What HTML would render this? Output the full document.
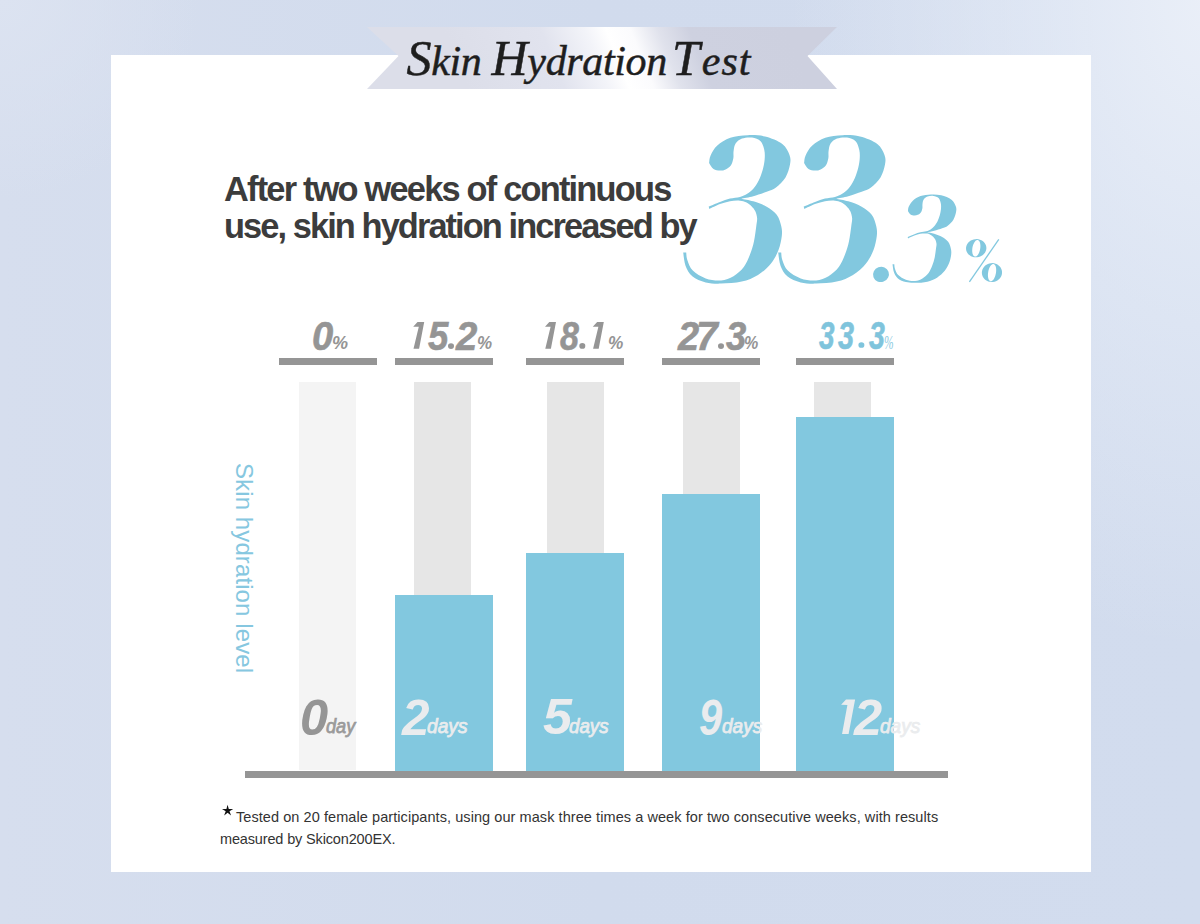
<!DOCTYPE html>
<html><head><meta charset="utf-8">
<style>
*{margin:0;padding:0;box-sizing:border-box}
html,body{width:1200px;height:924px;overflow:hidden}
body{position:relative;font-family:"Liberation Sans",sans-serif;background:#d3dcec;}
#bg{position:absolute;left:0;top:0;width:1200px;height:924px;
background:radial-gradient(ellipse 200px 200px at 0px 0px,rgba(220,227,241,1) 0%,rgba(221,228,241,0) 100%),radial-gradient(ellipse 420px 650px at 1210px 0px,rgba(234,239,248,1) 0%,rgba(232,238,248,0.6) 40%,rgba(232,238,248,0) 100%),linear-gradient(90deg,#d6deee 0%,#d1dbed 50%,#d2dcee 100%);}
#card{position:absolute;left:111px;top:55px;width:980px;height:817px;background:#fff}
.abs{position:absolute;white-space:nowrap}
#title{left:406.5px;top:29px;font-family:"Liberation Serif",serif;font-style:italic;font-size:42px;color:#1e1e1e;letter-spacing:-0.35px;-webkit-text-stroke:0.5px #1e1e1e}
#title b{font-weight:normal;font-size:50px}
#head{left:224px;top:171px;font-size:34.4px;font-weight:bold;color:#3c3c3c;line-height:37px;letter-spacing:-1.8px}
.ul{position:absolute;top:358px;height:7px;width:98px;background:#959595}
.gb{position:absolute;top:382px;width:57px;height:389px;background:#e6e6e6}
.bb{position:absolute;width:98px;background:#82c8df}
#axis{position:absolute;left:245px;top:771px;width:703px;height:7px;background:#959595}
.pl{position:absolute;white-space:nowrap;font-weight:bold;font-style:italic;color:#959595;font-size:39px;top:313px;transform:scaleX(0.82);transform-origin:0 0}
.pl small{font-size:18px}
.dl{position:absolute;white-space:nowrap;font-weight:bold;font-style:italic;font-size:50px;top:687px;color:#e6e8ea;transform:scaleX(0.86);transform-origin:0 0}
.dl small{font-size:20px}
#ylab{left:236.3px;top:463px;font-size:24px;color:#86c7e0;letter-spacing:0.1px;transform-origin:0 0;transform:translate(22px,0) rotate(90deg)}
#foot{left:236px;top:806px;font-size:14.5px;color:#333;line-height:22px;letter-spacing:0.07px}
#foot2{left:220px;top:828px;font-size:14.5px;color:#333;line-height:22px;letter-spacing:-0.15px}
</style></head>
<body>
<div id="bg"></div>
<div id="card"></div>
<svg class="abs" style="left:0;top:0" width="1200" height="924">
<defs>
<linearGradient id="rib" x1="480" y1="118" x2="776" y2="-2" gradientUnits="userSpaceOnUse">
<stop offset="0" stop-color="#dcdee9"/>
<stop offset="0.28" stop-color="#e1e3ee"/>
<stop offset="0.41" stop-color="#f3f4f9"/>
<stop offset="0.47" stop-color="#ffffff"/>
<stop offset="0.54" stop-color="#fbfbfd"/>
<stop offset="0.62" stop-color="#e0e2ec"/>
<stop offset="0.71" stop-color="#ced1e0"/>
<stop offset="1" stop-color="#cdd0df"/>
</linearGradient>
</defs>
<polygon points="367,27 837,27 807.5,56 837,89 367,89 398.5,56" fill="url(#rib)"/>
<polygon points="227.60,804.80 228.78,809.08 233.21,808.88 229.50,811.32 231.07,815.47 227.60,812.70 224.13,815.47 225.70,811.32 221.99,808.88 226.42,809.08" fill="#111"/>
</svg>
<svg class="abs" style="left:0;top:0" width="1200" height="924">
<g fill="#82c8df">
<path d="M26.1 27.9 C26.4 26.7 26.2 23.4 27.6 20.5 C29.0 17.6 31.0 13.5 34.3 10.6 C37.6 7.7 42.2 4.5 47.3 2.8 C52.3 1.1 58.8 0.4 64.6 0.2 C70.4 -0.0 76.2 0.1 82.0 1.5 C87.8 2.9 95.2 5.8 99.3 8.9 C103.4 12.0 105.2 16.6 106.5 20.0 C107.8 23.4 107.7 25.8 107.0 29.6 C106.3 33.3 104.8 38.7 102.5 42.5 C100.2 46.3 96.1 50.1 93.0 52.5 C89.9 54.9 87.5 55.4 83.7 56.8 C79.9 58.2 74.5 60.0 70.3 61.2 C66.1 62.3 60.3 63.3 58.3 63.7 C60.3 64.1 66.1 65.0 70.3 66.3 C74.5 67.6 79.8 69.5 83.7 71.7 C87.6 73.9 91.3 76.5 93.7 79.7 C96.1 82.9 97.4 87.4 98.2 91.0 C99.1 94.6 99.2 97.0 98.8 101.0 C98.3 105.0 97.3 110.4 95.5 115.0 C93.7 119.6 91.4 124.3 88.0 128.5 C84.6 132.7 79.9 137.0 75.0 140.0 C70.1 143.0 64.9 145.2 58.7 146.6 C52.6 148.0 44.1 148.5 38.1 148.6 C32.1 148.7 27.5 148.6 22.7 147.4 C17.9 146.2 12.6 143.9 9.3 141.2 C5.9 138.4 4.1 134.8 2.6 130.9 C1.1 127.0 0.6 119.8 0.2 117.6 L3.2 117.6 C3.4 118.9 3.3 122.2 4.4 125.2 C5.5 128.2 6.8 132.6 9.8 135.6 C12.8 138.6 18.0 141.8 22.7 143.4 C27.4 145.0 33.5 145.8 38.1 145.4 C42.7 145.0 46.7 143.4 50.5 141.2 C54.3 139.0 58.0 135.6 60.8 132.0 C63.5 128.4 65.3 123.9 67.0 119.6 C68.7 115.3 70.0 111.1 71.0 106.3 C72.0 101.5 72.8 94.9 73.3 91.0 C73.8 87.1 74.3 85.4 74.1 83.0 C73.9 80.6 73.2 78.3 72.3 76.3 C71.4 74.3 70.0 72.7 68.5 71.2 C67.0 69.7 64.9 68.2 63.0 67.3 C61.1 66.4 59.7 65.9 57.0 65.7 C54.3 65.5 50.3 65.6 47.0 66.2 C43.7 66.8 40.5 67.8 37.0 69.1 C33.5 70.4 28.1 73.2 26.3 74.0 L25.7 71.6 C27.6 70.8 33.5 68.2 37.0 66.9 C40.5 65.6 43.7 64.4 47.0 63.6 C50.3 62.8 54.1 62.7 57.0 61.9 C59.9 61.1 62.0 60.2 64.2 58.8 C66.4 57.4 68.4 55.9 70.3 53.7 C72.2 51.5 74.2 48.5 75.7 45.5 C77.2 42.5 78.5 38.9 79.5 35.5 C80.5 32.1 81.3 28.4 81.6 25.0 C81.9 21.6 82.0 18.1 81.3 15.0 C80.6 11.9 79.6 8.3 77.6 6.2 C75.6 4.1 72.1 3.0 69.0 2.6 C65.9 2.2 61.7 2.6 59.0 3.6 C56.3 4.6 54.0 6.5 52.6 8.6 C51.2 10.7 51.0 13.5 50.6 16.0 C50.2 18.5 50.8 21.1 50.3 23.5 C49.8 25.9 49.1 28.6 47.8 30.4 C46.5 32.2 44.4 33.5 42.6 34.4 C40.8 35.3 38.9 35.7 36.9 35.6 C34.9 35.5 32.3 35.2 30.5 33.9 C28.7 32.6 26.8 28.9 26.1 27.9Z" transform="translate(683,135)"/>
<path d="M26.1 27.9 C26.4 26.7 26.2 23.4 27.6 20.5 C29.0 17.6 31.0 13.5 34.3 10.6 C37.6 7.7 42.2 4.5 47.3 2.8 C52.3 1.1 58.8 0.4 64.6 0.2 C70.4 -0.0 76.2 0.1 82.0 1.5 C87.8 2.9 95.2 5.8 99.3 8.9 C103.4 12.0 105.2 16.6 106.5 20.0 C107.8 23.4 107.7 25.8 107.0 29.6 C106.3 33.3 104.8 38.7 102.5 42.5 C100.2 46.3 96.1 50.1 93.0 52.5 C89.9 54.9 87.5 55.4 83.7 56.8 C79.9 58.2 74.5 60.0 70.3 61.2 C66.1 62.3 60.3 63.3 58.3 63.7 C60.3 64.1 66.1 65.0 70.3 66.3 C74.5 67.6 79.8 69.5 83.7 71.7 C87.6 73.9 91.3 76.5 93.7 79.7 C96.1 82.9 97.4 87.4 98.2 91.0 C99.1 94.6 99.2 97.0 98.8 101.0 C98.3 105.0 97.3 110.4 95.5 115.0 C93.7 119.6 91.4 124.3 88.0 128.5 C84.6 132.7 79.9 137.0 75.0 140.0 C70.1 143.0 64.9 145.2 58.7 146.6 C52.6 148.0 44.1 148.5 38.1 148.6 C32.1 148.7 27.5 148.6 22.7 147.4 C17.9 146.2 12.6 143.9 9.3 141.2 C5.9 138.4 4.1 134.8 2.6 130.9 C1.1 127.0 0.6 119.8 0.2 117.6 L3.2 117.6 C3.4 118.9 3.3 122.2 4.4 125.2 C5.5 128.2 6.8 132.6 9.8 135.6 C12.8 138.6 18.0 141.8 22.7 143.4 C27.4 145.0 33.5 145.8 38.1 145.4 C42.7 145.0 46.7 143.4 50.5 141.2 C54.3 139.0 58.0 135.6 60.8 132.0 C63.5 128.4 65.3 123.9 67.0 119.6 C68.7 115.3 70.0 111.1 71.0 106.3 C72.0 101.5 72.8 94.9 73.3 91.0 C73.8 87.1 74.3 85.4 74.1 83.0 C73.9 80.6 73.2 78.3 72.3 76.3 C71.4 74.3 70.0 72.7 68.5 71.2 C67.0 69.7 64.9 68.2 63.0 67.3 C61.1 66.4 59.7 65.9 57.0 65.7 C54.3 65.5 50.3 65.6 47.0 66.2 C43.7 66.8 40.5 67.8 37.0 69.1 C33.5 70.4 28.1 73.2 26.3 74.0 L25.7 71.6 C27.6 70.8 33.5 68.2 37.0 66.9 C40.5 65.6 43.7 64.4 47.0 63.6 C50.3 62.8 54.1 62.7 57.0 61.9 C59.9 61.1 62.0 60.2 64.2 58.8 C66.4 57.4 68.4 55.9 70.3 53.7 C72.2 51.5 74.2 48.5 75.7 45.5 C77.2 42.5 78.5 38.9 79.5 35.5 C80.5 32.1 81.3 28.4 81.6 25.0 C81.9 21.6 82.0 18.1 81.3 15.0 C80.6 11.9 79.6 8.3 77.6 6.2 C75.6 4.1 72.1 3.0 69.0 2.6 C65.9 2.2 61.7 2.6 59.0 3.6 C56.3 4.6 54.0 6.5 52.6 8.6 C51.2 10.7 51.0 13.5 50.6 16.0 C50.2 18.5 50.8 21.1 50.3 23.5 C49.8 25.9 49.1 28.6 47.8 30.4 C46.5 32.2 44.4 33.5 42.6 34.4 C40.8 35.3 38.9 35.7 36.9 35.6 C34.9 35.5 32.3 35.2 30.5 33.9 C28.7 32.6 26.8 28.9 26.1 27.9Z" transform="translate(778,135)"/>
<path d="M26.1 27.9 C26.4 26.7 26.2 23.4 27.6 20.5 C29.0 17.6 31.0 13.5 34.3 10.6 C37.6 7.7 42.2 4.5 47.3 2.8 C52.3 1.1 58.8 0.4 64.6 0.2 C70.4 -0.0 76.2 0.1 82.0 1.5 C87.8 2.9 95.2 5.8 99.3 8.9 C103.4 12.0 105.2 16.6 106.5 20.0 C107.8 23.4 107.7 25.8 107.0 29.6 C106.3 33.3 104.8 38.7 102.5 42.5 C100.2 46.3 96.1 50.1 93.0 52.5 C89.9 54.9 87.5 55.4 83.7 56.8 C79.9 58.2 74.5 60.0 70.3 61.2 C66.1 62.3 60.3 63.3 58.3 63.7 C60.3 64.1 66.1 65.0 70.3 66.3 C74.5 67.6 79.8 69.5 83.7 71.7 C87.6 73.9 91.3 76.5 93.7 79.7 C96.1 82.9 97.4 87.4 98.2 91.0 C99.1 94.6 99.2 97.0 98.8 101.0 C98.3 105.0 97.3 110.4 95.5 115.0 C93.7 119.6 91.4 124.3 88.0 128.5 C84.6 132.7 79.9 137.0 75.0 140.0 C70.1 143.0 64.9 145.2 58.7 146.6 C52.6 148.0 44.1 148.5 38.1 148.6 C32.1 148.7 27.5 148.6 22.7 147.4 C17.9 146.2 12.6 143.9 9.3 141.2 C5.9 138.4 4.1 134.8 2.6 130.9 C1.1 127.0 0.6 119.8 0.2 117.6 L3.2 117.6 C3.4 118.9 3.3 122.2 4.4 125.2 C5.5 128.2 6.8 132.6 9.8 135.6 C12.8 138.6 18.0 141.8 22.7 143.4 C27.4 145.0 33.5 145.8 38.1 145.4 C42.7 145.0 46.7 143.4 50.5 141.2 C54.3 139.0 58.0 135.6 60.8 132.0 C63.5 128.4 65.3 123.9 67.0 119.6 C68.7 115.3 70.0 111.1 71.0 106.3 C72.0 101.5 72.8 94.9 73.3 91.0 C73.8 87.1 74.3 85.4 74.1 83.0 C73.9 80.6 73.2 78.3 72.3 76.3 C71.4 74.3 70.0 72.7 68.5 71.2 C67.0 69.7 64.9 68.2 63.0 67.3 C61.1 66.4 59.7 65.9 57.0 65.7 C54.3 65.5 50.3 65.6 47.0 66.2 C43.7 66.8 40.5 67.8 37.0 69.1 C33.5 70.4 28.1 73.2 26.3 74.0 L25.7 71.6 C27.6 70.8 33.5 68.2 37.0 66.9 C40.5 65.6 43.7 64.4 47.0 63.6 C50.3 62.8 54.1 62.7 57.0 61.9 C59.9 61.1 62.0 60.2 64.2 58.8 C66.4 57.4 68.4 55.9 70.3 53.7 C72.2 51.5 74.2 48.5 75.7 45.5 C77.2 42.5 78.5 38.9 79.5 35.5 C80.5 32.1 81.3 28.4 81.6 25.0 C81.9 21.6 82.0 18.1 81.3 15.0 C80.6 11.9 79.6 8.3 77.6 6.2 C75.6 4.1 72.1 3.0 69.0 2.6 C65.9 2.2 61.7 2.6 59.0 3.6 C56.3 4.6 54.0 6.5 52.6 8.6 C51.2 10.7 51.0 13.5 50.6 16.0 C50.2 18.5 50.8 21.1 50.3 23.5 C49.8 25.9 49.1 28.6 47.8 30.4 C46.5 32.2 44.4 33.5 42.6 34.4 C40.8 35.3 38.9 35.7 36.9 35.6 C34.9 35.5 32.3 35.2 30.5 33.9 C28.7 32.6 26.8 28.9 26.1 27.9Z" transform="translate(892.4,194.4) scale(0.595)"/>
<ellipse cx="881" cy="274.4" rx="8" ry="7.6" transform="rotate(-20 881 274.4)"/>
<path fill-rule="evenodd" d="M986.34 247.13 L986.37 248.56 L986.14 249.98 L985.67 251.36 L984.97 252.66 L984.05 253.85 L982.93 254.90 L981.65 255.78 L980.24 256.48 L978.73 256.97 L977.15 257.25 L975.55 257.31 L973.97 257.14 L972.44 256.75 L971.01 256.15 L969.70 255.35 L968.55 254.38 L967.59 253.26 L966.85 252.01 L966.33 250.67 L966.06 249.27 L966.03 247.84 L966.26 246.42 L966.73 245.04 L967.43 243.74 L968.35 242.55 L969.47 241.50 L970.75 240.62 L972.16 239.92 L973.67 239.43 L975.25 239.15 L976.85 239.09 L978.43 239.26 L979.96 239.65 L981.39 240.25 L982.70 241.05 L983.85 242.02 L984.81 243.14 L985.55 244.39 L986.07 245.73Z M980.14 248.98 L979.87 250.26 L979.50 251.50 L979.06 252.66 L978.55 253.71 L977.98 254.63 L977.38 255.39 L976.74 255.98 L976.10 256.38 L975.46 256.58 L974.84 256.57 L974.26 256.36 L973.73 255.96 L973.26 255.36 L972.86 254.59 L972.55 253.67 L972.34 252.61 L972.22 251.45 L972.20 250.21 L972.28 248.93 L972.46 247.62 L972.73 246.34 L973.10 245.10 L973.54 243.94 L974.05 242.89 L974.62 241.97 L975.22 241.21 L975.86 240.62 L976.50 240.22 L977.14 240.02 L977.76 240.03 L978.34 240.24 L978.87 240.64 L979.34 241.24 L979.74 242.01 L980.05 242.93 L980.26 243.99 L980.38 245.15 L980.40 246.39 L980.32 247.67Z"/>
<path fill-rule="evenodd" d="M1001.99 271.49 L1002.03 272.98 L1001.81 274.45 L1001.35 275.88 L1000.66 277.22 L999.75 278.45 L998.65 279.53 L997.39 280.44 L995.99 281.16 L994.50 281.67 L992.94 281.95 L991.35 282.00 L989.79 281.81 L988.27 281.40 L986.85 280.77 L985.55 279.94 L984.40 278.93 L983.45 277.76 L982.70 276.46 L982.18 275.06 L981.91 273.61 L981.87 272.12 L982.09 270.65 L982.55 269.22 L983.24 267.88 L984.15 266.65 L985.25 265.57 L986.51 264.66 L987.91 263.94 L989.40 263.43 L990.96 263.15 L992.55 263.10 L994.11 263.29 L995.63 263.70 L997.05 264.33 L998.35 265.16 L999.50 266.17 L1000.45 267.34 L1001.20 268.64 L1001.72 270.04Z M995.89 273.28 L995.61 274.61 L995.24 275.89 L994.79 277.09 L994.27 278.18 L993.70 279.14 L993.09 279.93 L992.45 280.54 L991.80 280.96 L991.16 281.17 L990.54 281.17 L989.96 280.96 L989.43 280.54 L988.96 279.93 L988.57 279.13 L988.27 278.18 L988.05 277.09 L987.94 275.89 L987.93 274.60 L988.02 273.27 L988.21 271.92 L988.49 270.59 L988.86 269.31 L989.31 268.11 L989.83 267.02 L990.40 266.06 L991.01 265.27 L991.65 264.66 L992.30 264.24 L992.94 264.03 L993.56 264.03 L994.14 264.24 L994.67 264.66 L995.14 265.27 L995.53 266.07 L995.83 267.02 L996.05 268.11 L996.16 269.31 L996.17 270.60 L996.08 271.93Z"/>
<line x1="998.8" y1="239.4" x2="969.4" y2="281.9" stroke="#82c8df" stroke-width="1.3"/>
</g></svg>
<div class="abs" id="title"><b>S</b>kin <b>H</b>ydration <b style="margin-left:-5px;letter-spacing:2px">T</b><span style="letter-spacing:0.9px">est</span></div>
<div class="abs" id="head">After two weeks of continuous<br><span style="letter-spacing:-1.92px">use, skin hydration increased by</span></div>

<div class="gb" style="left:299px;background:#f4f4f4;height:388px"></div>
<div class="gb" style="left:414px"></div>
<div class="gb" style="left:547px"></div>
<div class="gb" style="left:683px"></div>
<div class="gb" style="left:814px"></div>
<div class="bb" style="left:395px;top:595px;height:176px"></div>
<div class="bb" style="left:526px;top:553px;height:218px"></div>
<div class="bb" style="left:662px;top:494px;height:277px"></div>
<div class="bb" style="left:796px;top:417px;height:355px"></div>
<div class="ul" style="left:279px"></div>
<div class="ul" style="left:395px"></div>
<div class="ul" style="left:526px"></div>
<div class="ul" style="left:662px"></div>
<div class="ul" style="left:796px"></div>
<div id="axis"></div>
<div style="position:absolute;left:312.05px;top:313.70px;white-space:nowrap;font-family:'Liberation Sans';font-size:40px;font-weight:bold;font-style:italic;-webkit-text-stroke:0.6px;color:#959595;transform:scaleX(0.952);transform-origin:0 0;">0</div>
<div style="position:absolute;left:428.00px;top:313.70px;white-space:nowrap;font-family:'Liberation Sans';font-size:40px;font-weight:bold;font-style:italic;-webkit-text-stroke:0.6px;color:#959595;transform:scaleX(0.913);transform-origin:0 0;">5</div>
<div style="position:absolute;left:455.96px;top:313.70px;white-space:nowrap;font-family:'Liberation Sans';font-size:40px;font-weight:bold;font-style:italic;-webkit-text-stroke:0.6px;color:#959595;transform:scaleX(0.957);transform-origin:0 0;">2</div>
<div style="position:absolute;left:559.50px;top:313.70px;white-space:nowrap;font-family:'Liberation Sans';font-size:40px;font-weight:bold;font-style:italic;-webkit-text-stroke:0.6px;color:#959595;transform:scaleX(0.848);transform-origin:0 0;">8</div>
<div style="position:absolute;left:678.15px;top:313.70px;white-space:nowrap;font-family:'Liberation Sans';font-size:40px;font-weight:bold;font-style:italic;-webkit-text-stroke:0.6px;color:#959595;transform:scaleX(0.948);transform-origin:0 0;">2</div>
<div style="position:absolute;left:696.05px;top:313.70px;white-space:nowrap;font-family:'Liberation Sans';font-size:40px;font-weight:bold;font-style:italic;-webkit-text-stroke:0.6px;color:#959595;transform:scaleX(0.977);transform-origin:0 0;">7</div>
<div style="position:absolute;left:726.00px;top:313.70px;white-space:nowrap;font-family:'Liberation Sans';font-size:40px;font-weight:bold;font-style:italic;-webkit-text-stroke:0.6px;color:#959595;transform:scaleX(0.909);transform-origin:0 0;">3</div>
<div style="position:absolute;left:819.40px;top:314.70px;white-space:nowrap;font-family:'Liberation Sans';font-size:38px;font-weight:bold;font-style:italic;-webkit-text-stroke:0.6px;color:#7fc4dc;transform:scaleX(0.733);transform-origin:0 0;">3</div>
<div style="position:absolute;left:838.00px;top:314.70px;white-space:nowrap;font-family:'Liberation Sans';font-size:38px;font-weight:bold;font-style:italic;-webkit-text-stroke:0.6px;color:#7fc4dc;transform:scaleX(0.757);transform-origin:0 0;">3</div>
<div style="position:absolute;left:869.30px;top:314.70px;white-space:nowrap;font-family:'Liberation Sans';font-size:38px;font-weight:bold;font-style:italic;-webkit-text-stroke:0.6px;color:#7fc4dc;transform:scaleX(0.748);transform-origin:0 0;">3</div>
<div style="position:absolute;left:332.35px;top:332.20px;white-space:nowrap;font-family:'Liberation Sans';font-size:19px;font-weight:bold;font-style:italic;color:#959595;transform:scaleX(0.950);transform-origin:0 0;">%</div>
<div style="position:absolute;left:476.81px;top:332.20px;white-space:nowrap;font-family:'Liberation Sans';font-size:19px;font-weight:bold;font-style:italic;color:#959595;transform:scaleX(0.894);transform-origin:0 0;">%</div>
<div style="position:absolute;left:607.59px;top:332.20px;white-space:nowrap;font-family:'Liberation Sans';font-size:19px;font-weight:bold;font-style:italic;color:#959595;transform:scaleX(0.906);transform-origin:0 0;">%</div>
<div style="position:absolute;left:744.16px;top:332.20px;white-space:nowrap;font-family:'Liberation Sans';font-size:19px;font-weight:bold;font-style:italic;color:#959595;transform:scaleX(0.844);transform-origin:0 0;">%</div>
<div style="position:absolute;left:884.39px;top:332.20px;white-space:nowrap;font-family:'Liberation Sans';font-size:19px;font-style:italic;font-family:'Liberation Serif';color:#8fcbe2;transform:scaleX(0.607);transform-origin:0 0;">%</div>
<svg class="abs" style="left:0;top:0" width="1200" height="924"><polygon points="413.20,326.75 417.50,322.10 424.20,322.10 419.10,348.70 413.50,348.70 418.80,326.75" fill="#959595"/><polygon points="545.00,326.75 549.30,322.10 556.00,322.10 550.90,348.70 545.30,348.70 550.60,326.75" fill="#959595"/><polygon points="592.80,326.75 597.10,322.10 603.80,322.10 598.70,348.70 593.10,348.70 598.40,326.75" fill="#959595"/><polygon points="841.10,704.80 846.00,699.40 855.10,699.40 848.60,733.90 842.05,733.90 847.40,705.00" fill="#eaecee"/><ellipse cx="451" cy="346.1" rx="3.0" ry="2.85" fill="#959595"/><ellipse cx="582.3" cy="345.9" rx="3.0" ry="2.85" fill="#959595"/><ellipse cx="721" cy="346.1" rx="3.0" ry="2.85" fill="#959595"/><ellipse cx="861.4" cy="345" rx="3.0" ry="2.85" fill="#7fc4dc"/></svg>
<div style="position:absolute;left:299.68px;top:689.20px;white-space:nowrap;font-family:'Liberation Sans';font-size:50px;font-weight:bold;font-style:italic;color:#959595;transform:scaleX(1.012);transform-origin:0 0;">0</div>
<div style="position:absolute;left:401.69px;top:689.20px;white-space:nowrap;font-family:'Liberation Sans';font-size:50px;font-weight:bold;font-style:italic;color:#eaecee;transform:scaleX(0.989);transform-origin:0 0;">2</div>
<div style="position:absolute;left:542.86px;top:688.20px;white-space:nowrap;font-family:'Liberation Sans';font-size:50px;font-weight:bold;font-style:italic;color:#eaecee;transform:scaleX(1.041);transform-origin:0 0;">5</div>
<div style="position:absolute;left:699.27px;top:689.20px;white-space:nowrap;font-family:'Liberation Sans';font-size:50px;font-weight:bold;font-style:italic;color:#eaecee;transform:scaleX(0.833);transform-origin:0 0;">9</div>
<div style="position:absolute;left:854.01px;top:689.20px;white-space:nowrap;font-family:'Liberation Sans';font-size:50px;font-weight:bold;font-style:italic;color:#eaecee;transform:scaleX(1.011);transform-origin:0 0;">2</div>
<div style="position:absolute;left:325.70px;top:715.10px;white-space:nowrap;font-family:'Liberation Sans';font-size:19.5px;font-style:italic;-webkit-text-stroke:0.75px;color:#9a9a9a;transform:scaleX(0.933);transform-origin:0 0;">day</div>
<div style="position:absolute;left:427.00px;top:715.10px;white-space:nowrap;font-family:'Liberation Sans';font-size:19.5px;font-style:italic;-webkit-text-stroke:0.75px;color:#eaecee;transform:scaleX(0.985);transform-origin:0 0;">days</div>
<div style="position:absolute;left:569.40px;top:715.10px;white-space:nowrap;font-family:'Liberation Sans';font-size:19.5px;font-style:italic;-webkit-text-stroke:0.75px;color:#eaecee;transform:scaleX(0.961);transform-origin:0 0;">days</div>
<div style="position:absolute;left:721.50px;top:715.10px;white-space:nowrap;font-family:'Liberation Sans';font-size:19.5px;font-style:italic;-webkit-text-stroke:0.75px;color:#eaecee;transform:scaleX(0.976);transform-origin:0 0;">days</div>
<div style="position:absolute;left:880.00px;top:715.10px;white-space:nowrap;font-family:'Liberation Sans';font-size:19.5px;font-style:italic;-webkit-text-stroke:0.75px;color:#eaecee;transform:scaleX(0.976);transform-origin:0 0;">days</div>

<div class="abs" id="ylab">Skin hydration level</div>
<div class="abs" id="foot">Tested on 20 female participants, using our mask three times a week for two consecutive weeks, with results</div>
<div class="abs" id="foot2">measured by Skicon200EX.</div>
</body></html>
